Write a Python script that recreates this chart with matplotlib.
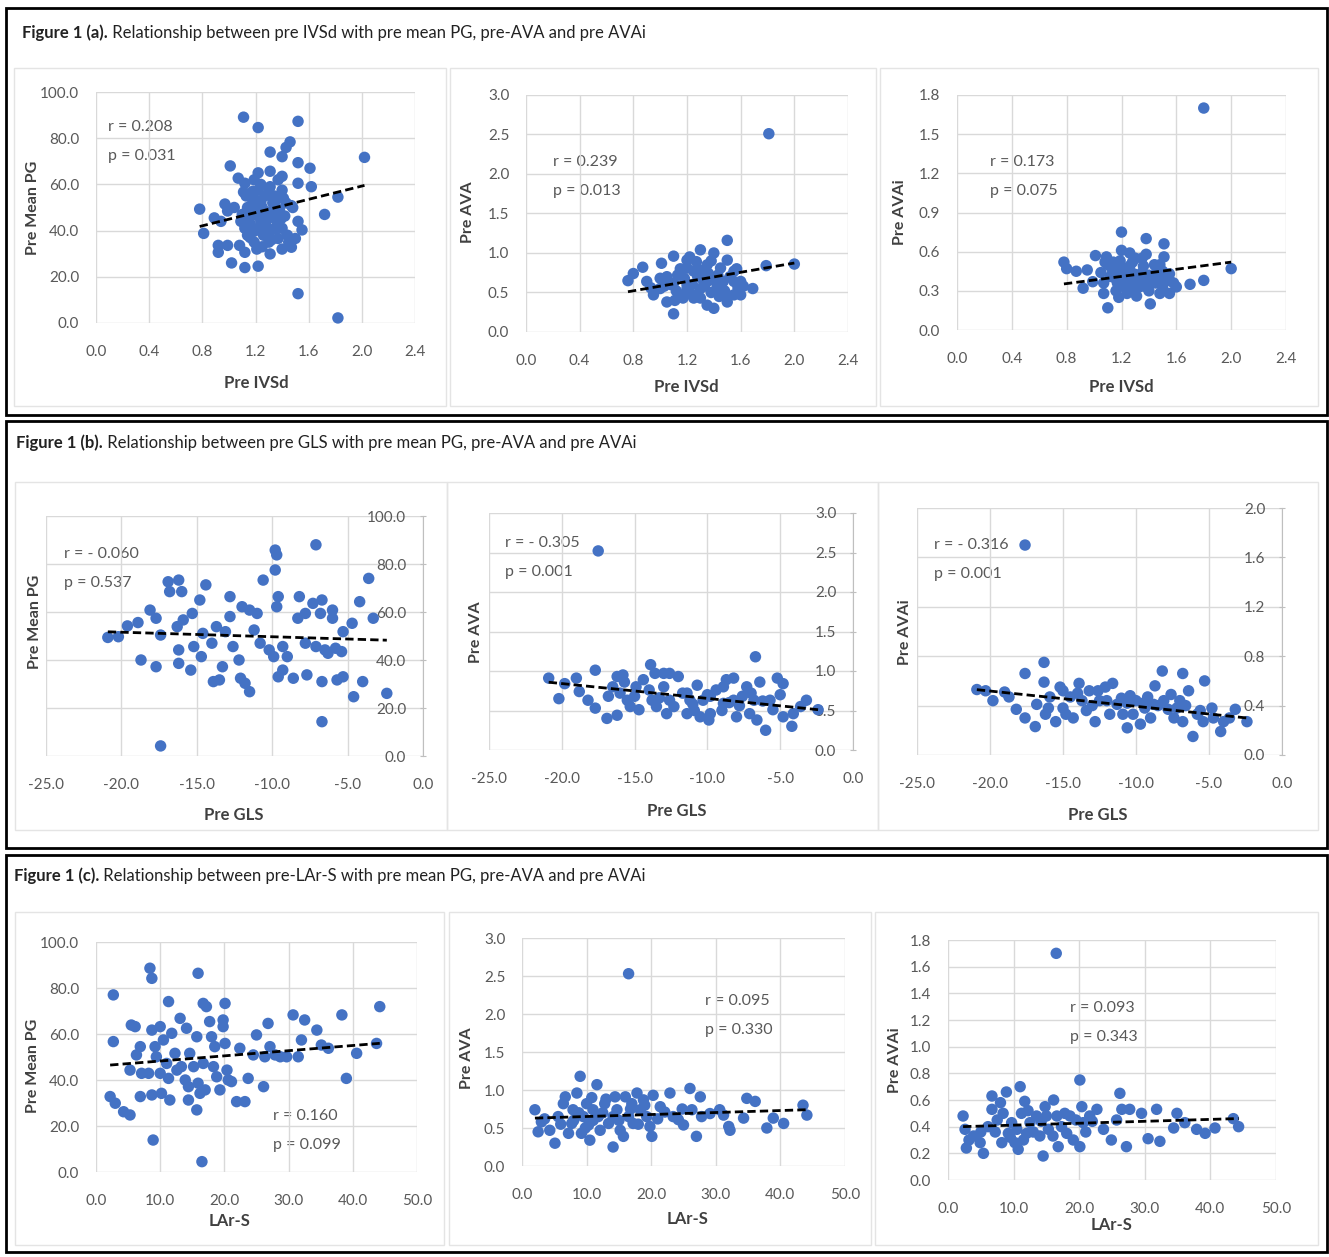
import numpy as np
import matplotlib
matplotlib.use("Agg")
import matplotlib.pyplot as plt
from matplotlib.patches import Rectangle
from matplotlib.ticker import FormatStrFormatter

plt.rcParams['font.family'] = ['Lato', 'DejaVu Sans']
plt.rcParams['axes.unicode_minus'] = False

# ==========================
# data
# ==========================
# (a) pre IVSd vs pre mean PG / AVA / AVAi
ivsd_pg_x = [1.11, 1.22, 1.52, 1.46, 1.43, 1.40, 1.31, 2.02, 1.01, 1.22,
             1.31, 1.40, 1.52, 1.61, 1.07, 1.12, 1.52, 1.62, 1.11, 1.22,
             1.31, 1.40, 1.82, 0.78, 0.97, 0.99, 1.14, 1.24, 1.35, 1.47,
             1.72, 0.89, 1.09, 1.19, 1.30, 1.42, 1.52, 0.81, 1.12, 1.22,
             1.32, 1.55, 1.14, 1.26, 0.92, 0.99, 0.92, 1.02, 1.12, 1.12,
             1.22, 1.21, 1.31, 1.40, 1.47, 1.37, 1.45, 1.52, 1.82, 1.17,
             1.27, 1.37, 1.19, 1.33, 1.24, 1.40, 1.04, 0.94, 1.50, 1.30,
             1.08, 1.16, 1.20, 1.25, 1.28, 1.33, 1.36, 1.18, 1.23, 1.29,
             1.34, 1.38, 1.15, 1.27, 1.43, 1.20, 1.13, 1.17, 1.21, 1.26,
             1.30, 1.35, 1.39, 1.44, 1.16, 1.24, 1.32, 1.41, 1.19, 1.28,
             1.37, 1.10, 1.48, 1.25, 1.34, 1.22]
ivsd_pg_y = [89.1, 84.6, 87.3, 78.4, 76.0, 72.0, 74.0, 71.7, 68.0, 65.0,
             65.7, 63.5, 69.4, 67.0, 62.7, 60.5, 60.5, 59.0, 56.7, 57.5,
             59.0, 57.5, 54.5, 49.3, 51.5, 48.5, 50.0, 52.3, 53.0, 50.8,
             47.0, 45.5, 44.0, 47.0, 45.5, 46.3, 44.0, 38.8, 41.0, 41.0,
             40.3, 40.3, 38.0, 38.0, 33.6, 33.6, 30.6, 26.0, 30.6, 24.0,
             24.6, 32.0, 29.9, 32.0, 32.8, 36.6, 35.0, 12.7, 2.2, 54.5,
             55.0, 62.0, 62.0, 47.8, 44.0, 41.0, 50.0, 44.0, 36.6, 35.0,
             33.6, 43.0, 48.0, 50.0, 42.0, 52.0, 44.0, 57.0, 46.0, 48.0,
             55.0, 49.0, 46.0, 39.0, 52.0, 40.0, 55.0, 51.0, 53.0, 47.0,
             58.0, 41.0, 45.0, 38.0, 37.0, 60.0, 36.0, 54.0, 35.0, 39.0,
             43.0, 47.0, 50.0, 33.0, 46.0, 52.0]

ivsd_ava_x = [1.81, 0.76, 0.80, 0.87, 1.01, 1.10, 1.20, 1.30, 1.40, 1.50,
              1.50, 1.79, 2.00, 1.69, 0.90, 0.95, 1.00, 1.05, 1.10, 1.15,
              1.20, 1.25, 1.30, 1.35, 1.40, 1.45, 1.50, 1.55, 1.60, 1.27,
              1.20, 1.35, 1.13, 1.08, 1.30, 1.40, 1.45, 1.55, 1.25, 1.35,
              1.60, 1.00, 1.55, 1.17, 1.47, 1.12, 1.18, 1.22, 1.28, 1.33,
              1.38, 1.42, 1.48, 1.52, 1.58, 1.03, 1.24, 1.36, 1.44, 0.93,
              1.05, 1.10, 1.15, 1.20, 1.26, 1.32, 1.38, 1.43, 1.49, 1.57,
              1.62, 1.22, 1.30, 1.41, 1.11]
ivsd_ava_y = [2.51, 0.65, 0.74, 0.82, 0.87, 0.96, 0.91, 1.04, 1.00, 1.16,
              0.91, 0.84, 0.86, 0.55, 0.64, 0.47, 0.55, 0.38, 0.23, 0.47,
              0.60, 0.77, 0.43, 0.64, 0.30, 0.55, 0.38, 0.64, 0.47, 0.89,
              0.81, 0.85, 0.72, 0.60, 0.55, 0.68, 0.81, 0.47, 0.43, 0.34,
              0.64, 0.68, 0.77, 0.43, 0.64, 0.52, 0.68, 0.50, 0.70, 0.58,
              0.50, 0.62, 0.52, 0.70, 0.56, 0.58, 0.60, 0.74, 0.45, 0.56,
              0.70, 0.62, 0.80, 0.55, 0.46, 0.66, 0.90, 0.72, 0.48, 0.80,
              0.58, 0.95, 0.78, 0.52, 0.40]

ivsd_avai_x = [1.80, 0.78, 0.80, 0.87, 0.95, 1.01, 0.92, 0.99, 1.09, 1.20,
               1.20, 1.26, 1.38, 1.51, 1.51, 1.10, 1.07, 1.17, 1.17, 1.31,
               1.41, 1.48, 1.55, 1.60, 1.70, 1.80, 2.00, 1.12, 1.21, 1.29,
               1.36, 1.41, 1.46, 1.33, 1.26, 1.14, 1.24, 1.38, 1.51, 1.55,
               1.07, 1.26, 1.36, 1.13, 1.19, 1.23, 1.28, 1.32, 1.35, 1.40,
               1.44, 1.50, 1.16, 1.22, 1.30, 1.45, 1.05, 1.58, 1.10, 1.15,
               1.20, 1.25, 1.30, 1.35, 1.40, 1.45, 1.50, 1.55, 1.18, 1.28,
               1.38, 1.48, 1.08]
ivsd_avai_y = [1.70, 0.52, 0.47, 0.45, 0.46, 0.57, 0.32, 0.37, 0.56, 0.75,
               0.61, 0.59, 0.70, 0.66, 0.56, 0.17, 0.28, 0.36, 0.46, 0.26,
               0.20, 0.28, 0.28, 0.33, 0.35, 0.38, 0.47, 0.41, 0.38, 0.43,
               0.49, 0.38, 0.46, 0.33, 0.49, 0.52, 0.28, 0.33, 0.38, 0.43,
               0.36, 0.38, 0.38, 0.47, 0.53, 0.42, 0.52, 0.36, 0.44, 0.42,
               0.50, 0.45, 0.30, 0.33, 0.55, 0.36, 0.44, 0.36, 0.50, 0.40,
               0.48, 0.35, 0.42, 0.55, 0.30, 0.40, 0.33, 0.38, 0.25, 0.30,
               0.58, 0.50, 0.52]

# (b) pre GLS
gls_pg_x = [-20.9, -20.2, -19.6, -18.9, -18.1, -17.7, -18.7, -17.7, -17.4, -17.4,
            -16.9, -16.8, -16.2, -16.0, -16.3, -16.2, -16.2, -15.9, -15.4, -15.3,
            -15.2, -14.7, -14.8, -14.4, -14.6, -14.0, -13.9, -13.5, -13.3, -13.7,
            -13.1, -12.8, -12.8, -12.6, -12.2, -12.1, -11.8, -11.5, -12.0, -11.5,
            -11.2, -11.0, -10.8, -10.6, -10.2, -9.8, -9.8, -9.7, -9.7, -9.6,
            -9.9, -9.6, -9.3, -9.3, -9.0, -8.6, -8.3, -8.2, -7.8, -7.8,
            -7.7, -7.1, -7.3, -6.7, -6.8, -7.1, -6.7, -6.7, -6.5, -6.3,
            -6.0, -6.0, -5.8, -5.7, -5.4, -5.3, -5.3, -4.7, -4.6, -4.2,
            -4.0, -3.6, -3.3, -2.4]
gls_pg_y = [49.4, 49.7, 54.2, 55.6, 60.8, 57.4, 40.0, 37.2, 4.2, 50.4,
            72.6, 68.5, 73.3, 68.5, 53.9, 44.2, 38.6, 56.7, 35.8, 59.4,
            45.6, 41.4, 65.0, 71.3, 51.1, 47.0, 31.0, 31.7, 37.2, 53.9,
            51.8, 66.4, 58.1, 45.6, 40.0, 32.4, 30.3, 26.8, 62.2, 60.8,
            52.5, 59.4, 47.0, 73.3, 44.2, 77.5, 85.8, 83.8, 62.2, 66.4,
            41.4, 33.0, 35.8, 45.6, 41.4, 32.4, 57.4, 66.4, 59.4, 47.0,
            33.8, 88.0, 63.6, 65.0, 59.4, 45.6, 14.3, 31.0, 44.2, 42.8,
            60.8, 57.4, 44.9, 31.7, 43.5, 51.8, 33.0, 55.3, 24.7, 64.3,
            31.0, 74.0, 57.4, 26.1]

gls_ava_x = [-17.5, -20.9, -20.2, -19.8, -19.0, -18.8, -18.2, -17.7, -17.7, -16.9,
             -16.8, -16.5, -16.2, -16.2, -15.8, -15.5, -15.3, -14.9, -14.7, -14.4,
             -13.9, -13.8, -13.6, -13.5, -13.0, -12.8, -12.6, -12.0, -11.7, -11.4,
             -11.2, -10.7, -10.5, -10.3, -9.9, -9.8, -9.4, -8.9, -8.7, -8.2,
             -8.2, -8.0, -7.6, -7.3, -7.1, -6.8, -6.7, -6.6, -6.4, -6.0,
             -5.7, -5.5, -5.2, -4.8, -4.8, -4.2, -4.1, -3.6, -3.2, -2.4,
             -12.6, -13.0, -11.4, -9.8, -8.9, -16.0, -15.0, -14.0, -12.3, -11.0,
             -10.0, -9.0, -7.8, -6.2, -5.0, -13.3, -10.9, -8.5, -15.7, -7.0]
gls_ava_y = [2.52, 0.91, 0.65, 0.84, 0.91, 0.74, 0.63, 1.01, 0.53, 0.40,
             0.68, 0.80, 0.93, 0.44, 0.95, 0.63, 0.55, 0.80, 0.51, 0.89,
             1.08, 0.63, 0.97, 0.55, 0.80, 0.46, 0.63, 0.93, 0.72, 0.46,
             0.63, 0.82, 0.42, 0.63, 0.38, 0.68, 0.76, 0.59, 0.89, 0.91,
             0.63, 0.42, 0.68, 0.80, 0.46, 0.63, 1.18, 0.38, 0.86, 0.25,
             0.63, 0.51, 0.91, 0.84, 0.42, 0.30, 0.46, 0.55, 0.63, 0.51,
             0.97, 0.97, 0.72, 0.46, 0.80, 0.72, 0.68, 0.76, 0.55, 0.58,
             0.70, 0.50, 0.56, 0.62, 0.70, 0.66, 0.50, 0.60, 0.86, 0.72]

gls_avai_x = [-17.6, -20.9, -20.3, -19.8, -19.0, -18.7, -18.2, -17.6, -17.6, -16.9,
              -16.8, -16.3, -16.3, -16.2, -15.9, -15.5, -15.2, -15.0, -14.5, -14.3,
              -13.9, -13.7, -13.4, -13.2, -12.8, -12.5, -12.1, -11.8, -11.6, -11.3,
              -10.9, -10.6, -10.4, -10.2, -10.0, -9.7, -9.4, -9.2, -8.7, -8.2,
              -8.1, -7.8, -7.6, -7.2, -7.0, -6.8, -6.8, -6.4, -6.1, -5.8,
              -5.4, -5.3, -4.8, -4.7, -4.2, -4.0, -3.2, -2.4, -12.0, -8.8,
              -16.0, -15.0, -14.0, -13.0, -11.0, -9.5, -8.5, -7.4, -6.6, -5.6,
              -3.6, -12.6, -10.6, -14.8, -9.0]
gls_avai_y = [1.70, 0.53, 0.52, 0.44, 0.51, 0.47, 0.37, 0.66, 0.30, 0.23,
              0.41, 0.75, 0.59, 0.33, 0.47, 0.27, 0.55, 0.38, 0.47, 0.30,
              0.58, 0.44, 0.36, 0.52, 0.27, 0.44, 0.55, 0.33, 0.58, 0.41,
              0.33, 0.22, 0.48, 0.33, 0.44, 0.25, 0.38, 0.47, 0.56, 0.68,
              0.44, 0.37, 0.49, 0.38, 0.44, 0.66, 0.27, 0.52, 0.15, 0.33,
              0.27, 0.60, 0.38, 0.30, 0.19, 0.27, 0.37, 0.27, 0.44, 0.41,
              0.38, 0.52, 0.50, 0.40, 0.46, 0.42, 0.40, 0.30, 0.40, 0.36,
              0.30, 0.52, 0.42, 0.33, 0.30]

# (c) pre LAr-S
lars_pg_x = [2.7, 2.7, 2.2, 3.0, 4.3, 5.3, 5.3, 5.5, 6.1, 6.9,
             6.3, 6.9, 7.1, 8.2, 8.4, 8.7, 8.7, 8.7, 8.9, 9.2,
             9.4, 10.0, 10.0, 10.2, 10.5, 11.0, 11.3, 11.3, 11.5, 11.8,
             12.3, 12.6, 13.1, 13.3, 13.9, 14.1, 14.4, 14.4, 14.6, 15.2,
             15.7, 15.9, 15.9, 15.7, 16.2, 16.5, 16.7, 17.2, 16.7, 17.0,
             17.7, 18.0, 18.3, 18.5, 18.8, 19.3, 19.8, 19.8, 20.1, 20.1,
             20.4, 20.6, 21.1, 21.9, 22.4, 23.2, 23.7, 24.5, 25.0, 26.1,
             26.3, 26.8, 27.1, 27.9, 28.7, 29.7, 30.7, 31.5, 32.0, 32.5,
             34.4, 35.1, 36.2, 38.3, 39.0, 40.6, 43.7, 44.2]
lars_pg_y = [77.0, 56.7, 32.8, 29.9, 26.2, 24.8, 44.3, 63.9, 63.2, 54.5,
             50.9, 32.8, 42.9, 42.9, 88.6, 84.2, 61.7, 33.5, 13.9, 54.5,
             50.1, 63.2, 42.9, 34.2, 57.4, 47.2, 74.1, 40.7, 31.3, 60.3,
             51.6, 44.3, 66.8, 45.8, 40.0, 62.5, 37.1, 31.3, 51.6, 45.8,
             58.8, 86.4, 38.6, 27.0, 34.2, 4.5, 73.3, 71.9, 47.2, 35.7,
             65.4, 58.8, 45.8, 54.5, 41.4, 35.7, 66.1, 63.2, 73.3, 55.9,
             44.3, 40.0, 39.3, 30.6, 53.8, 30.6, 40.7, 50.9, 59.6, 37.1,
             50.1, 64.6, 54.5, 50.9, 50.1, 50.1, 68.3, 50.1, 57.4, 66.1,
             61.7, 55.2, 53.8, 68.3, 40.7, 51.6, 55.9, 71.9]

lars_ava_x = [16.5, 2.0, 2.5, 3.0, 4.3, 5.1, 5.6, 6.4, 6.7, 7.2,
              7.7, 7.9, 8.5, 9.0, 9.2, 9.5, 10.0, 10.3, 10.5, 11.0,
              11.6, 11.8, 12.1, 12.8, 13.4, 14.1, 14.4, 14.7, 15.2, 15.7,
              16.0, 16.5, 17.0, 17.2, 17.8, 18.3, 18.8, 19.3, 19.8, 20.1,
              20.3, 21.4, 22.1, 22.9, 23.4, 24.2, 25.0, 26.0, 26.3, 27.0,
              27.6, 27.8, 29.1, 30.6, 31.2, 32.0, 32.2, 34.3, 34.8, 36.1,
              37.9, 38.9, 40.5, 43.5, 44.1, 14.1, 3.5, 6.0, 8.0, 9.8,
              11.0, 12.5, 13.0, 15.0, 16.8, 18.0, 19.0, 21.0, 8.8, 10.8,
              24.8]
lars_ava_y = [2.53, 0.74, 0.45, 0.58, 0.47, 0.30, 0.65, 0.82, 0.91, 0.43,
              0.56, 0.74, 0.96, 1.18, 0.43, 0.65, 0.82, 0.54, 0.34, 0.74,
              1.07, 0.65, 0.47, 0.82, 0.56, 0.25, 0.91, 0.74, 0.47, 0.39,
              0.91, 0.65, 0.82, 0.56, 0.96, 0.74, 0.87, 0.65, 0.52, 0.39,
              0.93, 0.78, 0.71, 0.96, 0.65, 0.61, 0.54, 1.02, 0.74, 0.39,
              0.91, 0.65, 0.69, 0.74, 0.67, 0.52, 0.47, 0.63, 0.89, 0.85,
              0.50, 0.63, 0.56, 0.80, 0.67, 0.65, 0.62, 0.55, 0.60, 0.50,
              0.60, 0.70, 0.88, 0.60, 0.75, 0.55, 0.80, 0.62, 0.70, 0.90,
              0.75]

lars_avai_x = [16.5, 2.3, 2.6, 2.8, 3.9, 4.9, 5.4, 6.1, 6.7, 6.7,
               7.2, 8.2, 8.4, 8.9, 9.2, 9.7, 10.2, 10.7, 11.0, 11.2,
               11.7, 12.0, 12.5, 13.5, 14.0, 14.5, 14.8, 15.3, 16.1, 16.6,
               16.8, 17.3, 18.1, 18.6, 19.1, 20.1, 20.1, 20.4, 20.6, 21.6,
               22.7, 23.7, 24.9, 25.7, 26.2, 26.5, 27.2, 27.7, 29.5, 30.5,
               31.8, 32.3, 34.4, 34.9, 36.1, 37.9, 39.2, 40.7, 43.5, 44.3,
               15.0, 3.2, 5.0, 7.5, 9.5, 10.5, 12.2, 13.0, 14.2, 16.0,
               17.8, 19.5, 21.0, 22.0, 8.0, 11.5]
lars_avai_y = [1.70, 0.48, 0.38, 0.24, 0.33, 0.28, 0.20, 0.40, 0.63, 0.53,
               0.36, 0.28, 0.50, 0.66, 0.35, 0.43, 0.28, 0.23, 0.70, 0.50,
               0.59, 0.35, 0.43, 0.48, 0.33, 0.18, 0.55, 0.38, 0.60, 0.48,
               0.25, 0.40, 0.35, 0.48, 0.30, 0.75, 0.25, 0.55, 0.43, 0.48,
               0.53, 0.38, 0.30, 0.45, 0.65, 0.53, 0.25, 0.53, 0.50, 0.31,
               0.53, 0.29, 0.39, 0.50, 0.43, 0.38, 0.35, 0.39, 0.46, 0.40,
               0.48, 0.30, 0.36, 0.45, 0.32, 0.38, 0.52, 0.36, 0.44, 0.33,
               0.50, 0.45, 0.36, 0.44, 0.58, 0.30]

# linear trend lines as drawn in the figure: (slope, intercept)
fit_ivsd = [(14.34, 30.6), (0.293, 0.287), (0.137, 0.246)]
fit_gls = [(-0.189, 47.8), (-0.0188, 0.465), (-0.0124, 0.270)]
fit_lars = [(0.225, 46.0), (0.00262, 0.625), (0.00144, 0.397)]

stats_a = [("r = 0.208", "p = 0.031"), ("r = 0.239", "p = 0.013"), ("r = 0.173", "p = 0.075")]
stats_b = [("r = - 0.060", "p = 0.537"), ("r = - 0.305", "p = 0.001"), ("r = - 0.316", "p = 0.001")]
stats_c = [("r = 0.160", "p = 0.099"), ("r = 0.095", "p = 0.330"), ("r = 0.093", "p = 0.343")]

# ==========================
# figure / helpers (pixel coordinates, origin top-left)
# ==========================
W, H = 1329, 1257
fig = plt.figure(figsize=(W / 100, H / 100), dpi=100)
bg = fig.add_axes([0, 0, 1, 1])
bg.set_xlim(0, W); bg.set_ylim(H, 0); bg.axis('off')

BLUE = '#4472C4'
TICK_C = '#595959'
LAB_C = '#404040'
GRID_C = '#d9d9d9'


def px_axes(x0, y0, x1, y1):
    return fig.add_axes([x0 / W, 1 - y1 / H, (x1 - x0) / W, (y1 - y0) / H])


def scatter_panel(box, x, y, fit, xlim, xstep, ylim, ystep, right_axis=False):
    ax = px_axes(*box)
    ax.set_facecolor('none')
    ax.scatter(x, y, s=68, color=BLUE, edgecolors='none', zorder=3, clip_on=False)
    k, b = fit
    xs = np.array([min(x), max(x)])
    ax.plot(xs, k * xs + b, color='black', lw=2, ls=(0, (3, 1.5)), zorder=4)
    ax.set_xlim(*xlim); ax.set_ylim(*ylim)
    ax.set_xticks(np.arange(xlim[0], xlim[1] + xstep / 2, xstep))
    ax.set_yticks(np.arange(ylim[0], ylim[1] + ystep / 2, ystep))
    ax.xaxis.set_major_formatter(FormatStrFormatter('%.1f'))
    ax.yaxis.set_major_formatter(FormatStrFormatter('%.1f'))
    ax.grid(True, color=GRID_C, lw=1, zorder=0)
    ax.set_axisbelow(True)
    for s in ax.spines.values():
        s.set_visible(False)
    ax.tick_params(axis='x', length=0, pad=16, labelsize=11, labelcolor=TICK_C)
    if right_axis:
        ax.spines['right'].set_visible(True)
        ax.spines['right'].set_color('#bfbfbf')
        ax.yaxis.tick_right()
        ax.tick_params(axis='y', length=4, direction='inout', color='#bfbfbf',
                       pad=-14, labelsize=11, labelcolor=TICK_C)
        for lbl in ax.get_yticklabels():
            lbl.set_horizontalalignment('right')
    else:
        ax.tick_params(axis='y', length=0, pad=12, labelsize=11, labelcolor=TICK_C)
    return ax


def title(x, y, bold, rest):
    t = bg.text(x, y, bold, fontsize=12, fontweight='bold', color='#222222',
                ha='left', va='center')
    bg.annotate(rest, xy=(1, 0.5), xycoords=t, fontsize=12, color='#222222',
                ha='left', va='center')


def stat_text(x, y, pair):
    bg.text(x, y, pair[0], fontsize=11.5, color=TICK_C, ha='left', va='center')
    bg.text(x, y + 29, pair[1], fontsize=11.5, color=TICK_C, ha='left', va='center')


def xlab(x, y, s):
    bg.text(x, y, s, fontsize=12, fontweight='bold', color=LAB_C, ha='center', va='center')


def ylab(x, y, s):
    bg.text(x, y, s, fontsize=11.5, fontweight='bold', color=LAB_C, ha='center',
            va='center', rotation=90)


# panel frames
for (x0, y0, x1, y1) in [(6, 8, 1327, 415), (6, 421, 1327, 848), (6, 855, 1327, 1252)]:
    bg.add_patch(Rectangle((x0, y0), x1 - x0, y1 - y0, fill=False, lw=2, ec='black'))
# chart-area frames
chart_boxes = [(14, 68, 446, 406), (450, 68, 876, 406), (880, 68, 1318, 406),
               (15, 482, 447, 830), (447, 482, 878, 830), (878, 482, 1318, 830),
               (15, 912, 444, 1245), (449, 912, 871, 1245), (875, 912, 1318, 1245)]
for (x0, y0, x1, y1) in chart_boxes:
    bg.add_patch(Rectangle((x0, y0), x1 - x0, y1 - y0, fill=False, lw=1, ec='#e4e4e4'))

# ----- (a)
title(22, 33, "Figure 1 (a).", " Relationship between pre IVSd with pre mean PG, pre-AVA and pre AVAi")
scatter_panel((96, 92, 415, 323), ivsd_pg_x, ivsd_pg_y, fit_ivsd[0], (0, 2.4), 0.4, (0, 100), 20)
scatter_panel((526, 95, 848, 332), ivsd_ava_x, ivsd_ava_y, fit_ivsd[1], (0, 2.4), 0.4, (0, 3), 0.5)
scatter_panel((957, 95, 1286, 330), ivsd_avai_x, ivsd_avai_y, fit_ivsd[2], (0, 2.4), 0.4, (0, 1.8), 0.3)
stat_text(108, 127, stats_a[0]); stat_text(553, 162, stats_a[1]); stat_text(990, 162, stats_a[2])
ylab(33, 208, "Pre Mean PG"); ylab(468, 212, "Pre AVA"); ylab(900, 212, "Pre AVAi")
xlab(256, 383, "Pre IVSd"); xlab(686, 387, "Pre IVSd"); xlab(1121, 387, "Pre IVSd")

# ----- (b)
title(16, 443, "Figure 1 (b).", " Relationship between pre GLS with pre mean PG, pre-AVA and pre AVAi")
scatter_panel((46, 516, 423, 756), gls_pg_x, gls_pg_y, fit_gls[0], (-25, 0), 5, (0, 100), 20, right_axis=True)
scatter_panel((489, 513, 853, 750), gls_ava_x, gls_ava_y, fit_gls[1], (-25, 0), 5, (0, 3), 0.5, right_axis=True)
scatter_panel((917, 508, 1282, 755), gls_avai_x, gls_avai_y, fit_gls[2], (-25, 0), 5, (0, 2), 0.4, right_axis=True)
stat_text(64, 554, stats_b[0]); stat_text(505, 543, stats_b[1]); stat_text(934, 545, stats_b[2])
ylab(35, 622, "Pre Mean PG"); ylab(476, 632, "Pre AVA"); ylab(905, 632, "Pre AVAi")
xlab(234, 815, "Pre GLS"); xlab(677, 811, "Pre GLS"); xlab(1098, 815, "Pre GLS")

# ----- (c)
title(14, 876, "Figure 1 (c).", " Relationship between pre-LAr-S with pre mean PG, pre-AVA and pre AVAi")
scatter_panel((96, 942, 417, 1172), lars_pg_x, lars_pg_y, fit_lars[0], (0, 50), 10, (0, 100), 20)
scatter_panel((522, 938, 845, 1166), lars_ava_x, lars_ava_y, fit_lars[1], (0, 50), 10, (0, 3), 0.5)
scatter_panel((948, 940, 1276, 1180), lars_avai_x, lars_avai_y, fit_lars[2], (0, 50), 10, (0, 1.8), 0.2)
stat_text(273, 1116, stats_c[0]); stat_text(705, 1001, stats_c[1]); stat_text(1070, 1008, stats_c[2])
ylab(33, 1066, "Pre Mean PG"); ylab(467, 1058, "Pre AVA"); ylab(895, 1060, "Pre AVAi")
xlab(230, 1221, "LAr-S"); xlab(688, 1219, "LAr-S"); xlab(1112, 1225, "LAr-S")

fig.savefig("out.png", dpi=100)
